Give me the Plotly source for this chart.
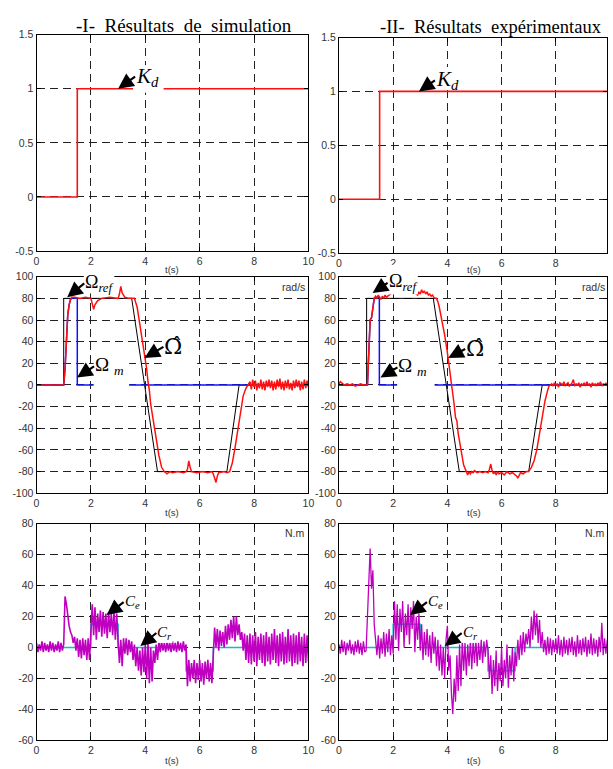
import plotly.graph_objects as go

W, H = 613, 769

# ---------------- data ----------------
x_ticks = [0, 2, 4, 6, 8, 10]
x_ticktext = ["0", "2", "4", "6", "8", "10"]
kd_ticks = [-0.5, 0, 0.5, 1, 1.5]
kd_ticktext = ["-0.5", "0", "0.5", "1", "1.5"]
w_ticks = [-100, -80, -60, -40, -20, 0, 20, 40, 60, 80, 100]
c_ticks = [-60, -40, -20, 0, 20, 40, 60, 80]

# Kd (switch signal)
t_kd = [0, 1.5, 1.5, 10]
kd_sim = [0, 0, 1, 1]
kd_exp = [0, 0, 1, 1]

# speed reference
t_ref_sim = [0, 1.0, 1.0, 3.5, 4.45, 7.0, 7.45, 10]
ref_sim = [0, 0, 80, 80, -80, -80, 0, 0]
t_ref_exp = [0, 1.02, 1.02, 3.48, 4.44, 7.0, 7.5, 10]
ref_exp = [0, 0, 80, 80, -80, -80, 0, 0]

# measured speed (sensor)
t_m_sim = [0, 1.0, 1.05, 1.1, 1.15, 1.2, 1.25, 1.3, 1.5, 1.5, 10]
m_sim = [0, 0, 15, 45, 65, 74, 79, 80, 80, 0, 0]
t_m_exp = [0, 1.05, 1.1, 1.15, 1.2, 1.25, 1.3, 1.35, 1.49, 1.49, 10]
m_exp = [0, 0, 30, 60, 62, 72, 80, 81, 81, 0, 0]

# estimated speed - simulation
t_hat_sim = [0, 1.0, 1.05, 1.1, 1.15, 1.2, 1.25, 1.3, 1.4, 1.6, 1.8, 2.0, 2.05, 2.1, 2.15,
             2.25, 2.4, 2.7, 3.0, 3.05, 3.1, 3.15, 3.25, 3.4, 3.6, 3.7, 3.8, 3.9, 4.0, 4.05,
             4.1, 4.15, 4.2, 4.3, 4.35, 4.4, 4.5, 4.6, 4.7, 4.8, 4.9, 5.0, 5.2, 5.4, 5.5,
             5.55, 5.6, 5.65, 5.7, 5.9, 6.1, 6.3, 6.45, 6.5, 6.55, 6.6, 6.65, 6.7, 6.9, 7.0,
             7.1, 7.2, 7.3, 7.4, 7.5, 7.6, 7.7, 7.8]
hat_sim = [0, 0, 15, 45, 65, 74, 79, 81, 81, 80, 81, 80, 76, 70, 74,
           78, 80, 81, 80, 84, 91, 85, 81, 80, 80, 72, 56, 40, 25, 15,
           3, -5, -18, -35, -40, -50, -65, -76, -80, -82, -80, -81, -80, -81, -80,
           -78, -70, -76, -80, -81, -80, -81, -80, -82, -86, -90, -84, -81, -80, -81,
           -80, -72, -58, -42, -25, -10, -3, 2]
hat_sim_tail = [3, -4, 5, -2, 4, -5, 2, -3, 5, -4, 3, -5, 4, -2, 5, -3, 4, -5, 3, -4,
                5, -2, 6, -4, 3, -5, 4, -3, 5, -4, 2, -5, 4, -3, 5, -2, 4, -5, 3, -4,
                5, -3, 4, -2]

# estimated speed - experimental
t_hat_exp = [0, 0.05, 0.1, 0.15, 0.2, 0.3, 0.4, 0.5, 0.6, 0.7, 0.8, 0.9, 1.0, 1.05, 1.1,
             1.15, 1.2, 1.25, 1.3, 1.35, 1.4, 1.45, 1.5, 1.55, 1.6, 1.65, 1.7, 1.75, 1.8,
             1.9, 2.0, 2.2, 2.4, 2.6, 2.8, 2.9, 2.95, 3.0, 3.05, 3.1, 3.15, 3.2, 3.25, 3.3,
             3.35, 3.4, 3.45, 3.5, 3.55, 3.6, 3.65, 3.7, 3.8, 3.9, 4.0, 4.1, 4.15, 4.2, 4.25,
             4.3, 4.35, 4.4, 4.5, 4.6, 4.7, 4.75, 4.8, 4.85, 4.9, 4.95, 5.0, 5.1, 5.2, 5.3,
             5.4, 5.5, 5.55, 5.6, 5.65, 5.7, 5.75, 5.8, 5.85, 5.9, 6.0, 6.1, 6.2, 6.3, 6.4,
             6.5, 6.55, 6.6, 6.65, 6.7, 6.8, 6.9, 7.0, 7.05, 7.1, 7.2, 7.3, 7.4, 7.5, 7.6,
             7.7, 7.75, 7.8]
hat_exp = [1, 3, 2, 1, 0, 1, 0, 1, -1, 0, 1, 0, 0, 0, 30,
           60, 62, 72, 80, 82, 80, 83, 81, 79, 82, 80, 83, 81, 82,
           84, 86, 85, 87, 86, 85, 83, 86, 84, 88, 85, 87, 84, 86, 83,
           84, 82, 83, 81, 80, 80, 77, 72, 60, 46, 30, 12, 2, -8, -18,
           -30, -33, -45, -60, -74, -80, -83, -80, -82, -80, -81, -79, -81, -80, -81,
           -80, -81, -78, -73, -79, -82, -80, -83, -80, -82, -81, -83, -80, -82, -81,
           -83, -84, -86, -83, -81, -82, -80, -80, -78, -76, -70, -60, -45, -30, -15,
           -5, -1, 0]
hat_exp_tail = [1, -1, 2, 0, 1, -2, 2, 1, 0, 3, -1, 1, 2, -1, 0, 2, 5, -1, 1, 0,
                2, -2, 1, 0, 2, -1, 3, 0, 1, -2, 2, 0, 1, -1, 2, 0, 3, -1, 1, 0,
                2, -1, 1, 0]

# load torque Cr
t_cr = [0, 2, 2, 3, 3, 5.5, 5.5, 6.5, 6.5, 10]
cr_sim = [0, 0, 15, 15, 0, 0, -15, -15, 0, 0]
cr_exp = [0, 0, 15, 15, 0, 0, -15, -15, 0, 0]

# electromagnetic torque Ce (sampled every 0.05 s)
ce_sim = [3, -3, 2, -2, 4, -3, 3, -2, 2, -3, 4, -2, 3, -3, 2, -2, 4, -3, 3, -2,
          2, 33, 28, 20, 14, 10, 8, 3, 7, -2, 6, -6, 5, -7, 6, -5, 5, -8, 6, -8,
          16, 28, 8, 26, 5, 22, 10, 24, 7, 23, 9, 22, 6, 23, 10, 22, 8, 23, 5, 22,
          4, -10, 5, -12, 6, -4, 6, -5, 5, -3, 4, -8, 2, -12, 0, -15, -2, -18, 0, -16,
          2, -20, 3, -23, 0, -22, -2, -10, 2, -8, 4, -3, 4, -2, 3, -3, 4, -2, 3, -3,
          4, -2, 3, -3, 4, -2, 3, -3, 4, -2, 2, -25, -8, -22, -10, -20, -8, -23, -10, -21,
          -8, -22, -10, -24, -9, -20, -8, -22, -10, -23, -5, 13, 0, 12, -2, 11, 1, 10, 0, 14,
          2, 15, 5, 18, 6, 20, 4, 20, 8, 15, 5, 10, -2, 9, -8, 8, -10, 9, -11, 8,
          -9, 10, -12, 7, -8, 9, -10, 8, -12, 10, -9, 7, -11, 9, -8, 12, -10, 8, -12, 9,
          -9, 10, -11, 7, -10, 12, -9, 8, -12, 9, -10, 8, -11, 10, -9, 7, -12, 9, -10, 8,
          -9]
ce_exp = [2, -4, 5, -3, 4, -5, 3, -2, 5, -4, 2, -5, 4, -3, 5, -4, 3, -5, 4, -3,
          -2, 20, 45, 64, 38, 50, 15, 2, -5, 8, -7, 6, -4, 10, -6, 9, -3, 12, -5, 8,
          -4, 30, 5, 28, -2, 25, 10, 30, 0, 22, 8, 28, 2, 26, 12, 30, -3, 20, 5, 22,
          -2, 15, -8, 10, -5, 12, -6, 8, -10, 10, -4, 7, -12, 5, -15, 2, -18, 0, -20, 5,
          14, -15, -5, -30, -43, -20, -35, -5, -28, 2, -25, 5, -15, 3, -18, 2, -12, 5, -14, 4,
          -10, 6, -12, 3, -8, 5, -10, 4, -6, 5, -2, -20, -5, -30, -8, -25, -2, -28, -10, -22,
          0, -25, -8, -20, 2, -26, -5, -18, 0, -22, -3, -12, 5, -8, 8, -5, 10, -3, 9, 2,
          12, 0, 20, 5, 24, 8, 22, 3, 18, 0, 10, -3, 5, -5, 7, -4, 6, -5, 5, -3,
          6, -4, 8, -5, 5, -6, 7, -4, 5, -5, 6, -3, 7, -5, 4, -6, 8, -4, 5, -5,
          6, -3, 7, -6, 5, -4, 9, -5, 6, -4, 5, -6, 7, -3, 16, -5, 6, -4, 5, -3,
          4]

DT = 0.05
t_ce_sim = [round(i * DT, 2) for i in range(len(ce_sim))]
t_ce_exp = [round(i * DT, 2) for i in range(len(ce_exp))]
t_sim_tail = [round(7.85 + i * DT, 2) for i in range(len(hat_sim_tail))]
t_exp_tail = [round(7.85 + i * DT, 2) for i in range(len(hat_exp_tail))]

# ---------------- figure ----------------
RED = "#ff1010"
BLUE = "#1010ff"
CYAN = "#10bcc8"
MAG = "#c000c0"

fig = go.Figure()

def line(x, y, xa, ya, color, width):
    fig.add_trace(go.Scatter(x=x, y=y, xaxis=xa, yaxis=ya, mode="lines",
                             line=dict(color=color, width=width), showlegend=False,
                             hoverinfo="skip"))

# row 1
line(t_kd, kd_sim, "x", "y", RED, 1.6)
line(t_kd, kd_exp, "x2", "y2", RED, 1.6)
# row 2
line(t_ref_sim, ref_sim, "x3", "y3", "black", 1)
line(t_m_sim, m_sim, "x3", "y3", BLUE, 1.5)
line(t_hat_sim + t_sim_tail, hat_sim + hat_sim_tail, "x3", "y3", RED, 1.5)
line(t_ref_exp, ref_exp, "x4", "y4", "black", 1)
line(t_m_exp, m_exp, "x4", "y4", BLUE, 1.5)
line(t_hat_exp + t_exp_tail, hat_exp + hat_exp_tail, "x4", "y4", RED, 1.5)
# row 3
line(t_cr, cr_sim, "x5", "y5", CYAN, 1.5)
line(t_ce_sim, ce_sim, "x5", "y5", MAG, 1.6)
line(t_cr, cr_exp, "x6", "y6", CYAN, 1.5)
line(t_ce_exp, ce_exp, "x6", "y6", MAG, 1.3)

TICKFONT = dict(family="Liberation Sans, Arial", size=10.5, color="#333")

def axis(domain, rng, tickvals, ticktext, anchor):
    return dict(domain=domain, range=rng, tickvals=tickvals, ticktext=ticktext,
                anchor=anchor, showline=True, linecolor="black", linewidth=1,
                mirror="ticks", ticks="inside", ticklen=4, tickcolor="black",
                tickwidth=1, showgrid=True, gridcolor="#222", gridwidth=1,
                griddash="8px,5px", zeroline=False, tickfont=TICKFONT,
                fixedrange=True)

XL = [34 / W, 310 / W]
XR = [341 / W, 1.0]
XR_MAX = 272 / 27.5

def yd(top, bottom):
    return [1 - bottom / H, 1 - top / H]

w_text = [str(v) for v in w_ticks]
c_text = [str(v) for v in c_ticks]

fig.update_layout(
    xaxis=axis(XL, [0, 10], x_ticks, x_ticktext, "y"),
    yaxis=axis(yd(29, 249), [-0.5, 1.5], kd_ticks, kd_ticktext, "x"),
    xaxis2=axis(XR, [0, XR_MAX], x_ticks, x_ticktext, "y2"),
    yaxis2=axis(yd(32, 251), [-0.5, 1.5], kd_ticks, kd_ticktext, "x2"),
    xaxis3=axis(XL, [0, 10], x_ticks, x_ticktext, "y3"),
    yaxis3=axis(yd(275, 495), [-100, 100], w_ticks, w_text, "x3"),
    xaxis4=axis(XR, [0, XR_MAX], x_ticks, x_ticktext, "y4"),
    yaxis4=axis(yd(275, 495), [-100, 100], w_ticks, w_text, "x4"),
    xaxis5=axis(XL, [0, 10], x_ticks, x_ticktext, "y5"),
    yaxis5=axis(yd(526, 746), [-60, 80], c_ticks, c_text, "x5"),
    xaxis6=axis(XR, [0, XR_MAX], x_ticks, x_ticktext, "y6"),
    yaxis6=axis(yd(526, 746), [-60, 80], c_ticks, c_text, "x6"),
)

ann = []
shapes = []
SERIF = "Liberation Serif, Times New Roman, serif"
SANS = "Liberation Sans, Arial, sans-serif"
NB = "\u00a0"

def ptext(px, py, text, size, family, xanchor="center", yanchor="middle", color="black"):
    ann.append(dict(xref="paper", yref="paper", x=px / W, y=1 - py / H, text=text,
                    showarrow=False, xanchor=xanchor, yanchor=yanchor,
                    font=dict(family=family, size=size, color=color)))

def mask(x0, y0, x1, y1):
    # white patch behind a label (pixel box converted to paper units)
    shapes.append(dict(type="rect", xref="paper", yref="paper", layer="above",
                       x0=x0 / W, x1=x1 / W, y0=1 - y1 / H, y1=1 - y0 / H,
                       fillcolor="white", line=dict(width=0)))

def label(xr, yr, x, y, ax, ay, text, size, family=SERIF):
    ann.append(dict(xref=xr, yref=yr, x=x, y=y, ax=ax, ay=ay, text=text,
                    xanchor="left", yanchor="middle", showarrow=True,
                    arrowhead=2, arrowsize=1.4, arrowwidth=2.2,
                    arrowcolor="black", standoff=0, borderpad=0,
                    font=dict(family=family, size=size, color="black")))

# titles
ptext(184, 20, "-I-" + NB * 2 + "Résultats" + NB * 2 + "de" + NB * 2 + "simulation", 19, SERIF)
ptext(495, 21, "-II-" + NB * 2 + "Résultats" + NB * 2 + "expérimentaux", 18.5, SERIF)

# axis labels t(s)
for cx in (172, 478):
    ptext(cx, 268, "t(s)", 9.5, SANS, color="#333")
    ptext(cx, 515, "t(s)", 9.5, SANS, color="#333")
    ptext(cx, 766, "t(s)", 9.5, SANS, color="#333")

# units
ptext(309, 285, "rad/s", 10.5, SANS, xanchor="right", color="#333")
ptext(613, 285, "rad/s", 10.5, SANS, xanchor="right", color="#333")
ptext(309, 535, "N.m", 10.5, SANS, xanchor="right", color="#333")
ptext(613, 535, "N.m", 10.5, SANS, xanchor="right", color="#333")

# white patches behind labels
mask(132, 60, 163, 88)
mask(438, 62, 472, 85)
mask(82, 263, 113, 292)
mask(389, 263, 421, 293)
mask(92, 352, 128, 390)
mask(400, 353, 438, 391)
mask(162, 333, 197, 371)
mask(468, 334, 503, 370)
mask(122, 592, 140, 610)
mask(155, 629, 172, 647)
mask(429, 592, 447, 610)
mask(464, 629, 481, 647)

# arrow labels
label("x", "y", 3.0, 1.0, 17, -12, "<i>K</i><sub><i>d</i></sub>", 21)
label("x2", "y2", 2.95, 1.0, 16, -11, "<i>K</i><sub><i>d</i></sub>", 21)
label("x3", "y3", 1.13, 81, 17, -14, "Ω<sub><i>ref</i></sub>", 18)
label("x4", "y4", 1.24, 85, 15, -10, "Ω<sub><i>ref</i></sub>", 18)
label("x3", "y3", 1.49, 7, 17, -11, "Ω <sub><i>m</i></sub>", 19)
label("x4", "y4", 1.53, 7, 17, -10, "Ω <sub><i>m</i></sub>", 19)
label("x3", "y3", 3.97, 25, 19, -11, "Ω\u0302", 22, "DejaVu Serif")
label("x4", "y4", 4.03, 25, 17, -9, "Ω\u0302", 22, "DejaVu Serif")
label("x5", "y5", 2.58, 21, 17, -13, "<i>C<sub>e</sub></i>", 15)
label("x5", "y5", 3.82, 1, 16, -13, "<i>C<sub>r</sub></i>", 15)
label("x6", "y6", 2.62, 21, 17, -13, "<i>C<sub>e</sub></i>", 15)
label("x6", "y6", 3.9, 1, 17, -13, "<i>C<sub>r</sub></i>", 15)

fig.update_layout(
    annotations=ann,
    shapes=shapes,
    width=W, height=H,
    margin=dict(l=0, r=0, t=0, b=0),
    paper_bgcolor="white", plot_bgcolor="white",
    showlegend=False,
)

fig.write_html("out.html", config={"displayModeBar": False},
               post_script="document.body.style.margin='0';")
